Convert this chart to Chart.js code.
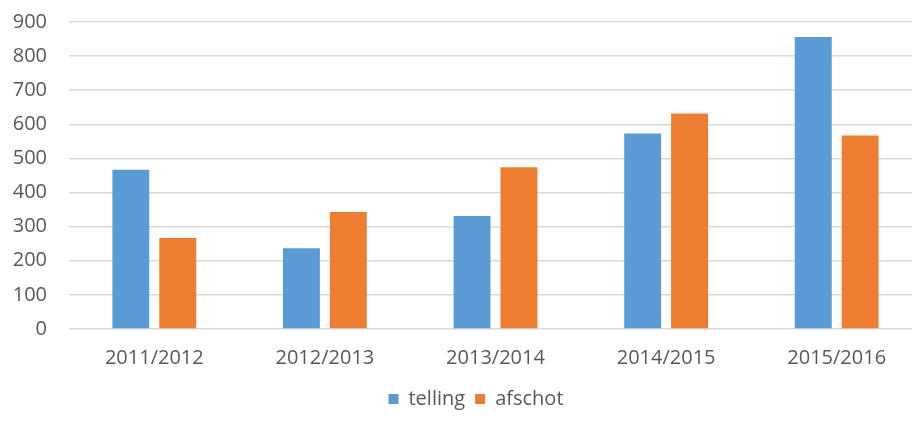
<!DOCTYPE html>
<html>
<head>
<meta charset="utf-8">
<script src="https://cdn.jsdelivr.net/npm/chart.js@4"></script>
<style>
  html, body { margin: 0; padding: 0; background: #fff; overflow: hidden; }
  .wrap { width: 922px; height: 421px; }
</style>
</head>
<body>
<div class="wrap"><canvas id="chart" width="922" height="421"></canvas></div>
<script>
const seasons = ['2011/2012', '2012/2013', '2013/2014', '2014/2015', '2015/2016']
const telling = [467, 237, 331, 573, 856]
const afschot = [267, 343, 474, 632, 567]
const yTicks = [0, 100, 200, 300, 400, 500, 600, 700, 800, 900]

const textColor = '#595959'
const fontFamily = '"Open Sans", sans-serif'

// the original legend sits a bit right of the canvas centre
const shiftLegend = {
  id: 'shiftLegend',
  afterLayout: chart => {
    chart.legend.left += 15
    chart.legend.right += 15
  }
}

new Chart('chart', {
  type: 'bar',
  data: {
    labels: seasons,
    datasets: [
      { label: 'telling', data: telling, backgroundColor: '#5B9BD5' },
      { label: 'afschot', data: afschot, backgroundColor: '#ED7D31' }
    ]
  },
  options: {
    responsive: false,
    animation: false,
    categoryPercentage: 0.55,
    barPercentage: 0.787,
    layout: { padding: { top: 0, right: 0, bottom: 2, left: 0 } },
    scales: {
      x: {
        grid: { display: false },
        border: { display: false },
        ticks: { color: textColor, font: { family: fontFamily, size: 20 }, padding: 9 }
      },
      y: {
        min: 0,
        max: 900,
        afterBuildTicks: axis => { axis.ticks = yTicks.map(v => ({ value: v })) },
        afterFit: axis => { axis.width = 69 },
        grid: { color: '#d9d9d9', lineWidth: 1.5, drawTicks: false },
        border: { display: false },
        ticks: { color: textColor, font: { family: fontFamily, size: 20, lineHeight: 0 }, padding: 22 }
      }
    },
    plugins: {
      tooltip: { enabled: false },
      legend: {
        position: 'bottom',
        labels: {
          color: textColor,
          font: { family: fontFamily, size: 20 },
          boxWidth: 10,
          boxHeight: 10,
          padding: 10
        }
      }
    }
  },
  plugins: [shiftLegend]
})
</script>
</body>
</html>
